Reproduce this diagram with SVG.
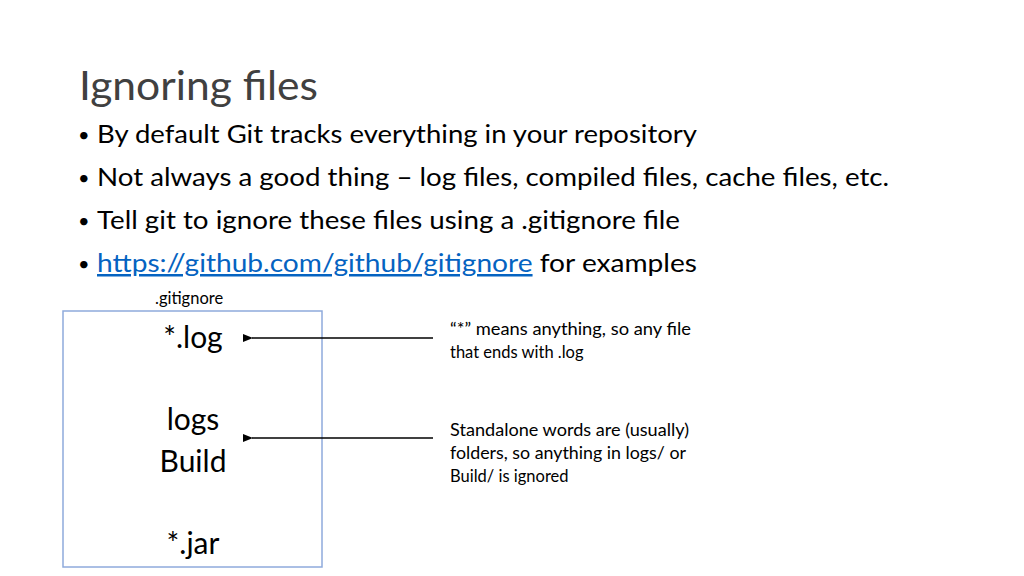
<svg xmlns="http://www.w3.org/2000/svg" width="1024" height="576" viewBox="0 0 1024 576">
<style>
text{font-family:"Lato","Liberation Sans",sans-serif;fill:#000}
.b{font-size:25px}
.d{font-size:20px}
.s{font-size:16.5px}
.c{font-size:30px;text-anchor:middle}
</style>
<defs><marker id="ah" markerWidth="10" markerHeight="8" refX="1" refY="4" orient="auto" markerUnits="userSpaceOnUse"><path d="M10,0 L0,4 L10,8 Z" fill="#000"/></marker></defs>
<rect width="1024" height="576" fill="#fff"/>
<g id="title"><text x="79" y="100" font-size="41" style="fill:#404040" textLength="239" lengthAdjust="spacingAndGlyphs">Ignoring files</text></g>
<g id="bullets">
<text class="d" x="78" y="142">•</text><text class="b" x="97" y="143" textLength="600" lengthAdjust="spacingAndGlyphs">By default Git tracks everything in your repository</text>
<text class="d" x="78" y="185">•</text><text class="b" x="97" y="186" textLength="792" lengthAdjust="spacingAndGlyphs">Not always a good thing – log files, compiled files, cache files, etc.</text>
<text class="d" x="78" y="228">•</text><text class="b" x="97" y="229" textLength="583" lengthAdjust="spacingAndGlyphs">Tell git to ignore these files using a .gitignore file</text>
<text class="d" x="78" y="271">•</text><text class="b" x="97" y="272" textLength="600" lengthAdjust="spacingAndGlyphs"><tspan style="fill:#0563C1" text-decoration="underline">https://github.com/github/gitignore</tspan> for examples</text>
</g>
<g id="file">
<text class="s" x="155" y="304">.gitignore</text>
<rect x="63" y="311" width="259" height="256" fill="none" stroke="#8faadc" stroke-width="1.5"/>
<text class="c" x="193" y="348">*.log</text>
<text class="c" x="193" y="430">logs</text>
<text class="c" x="193" y="472">Build</text>
<text class="c" x="193" y="554">*.jar</text>
</g>
<g id="connectors" stroke="#000" stroke-width="1.5">
<line x1="433" y1="338" x2="252" y2="338" marker-end="url(#ah)"/>
<line x1="433" y1="438" x2="252" y2="438" marker-end="url(#ah)"/>
</g>
<g id="notes">
<text class="s" x="450" y="335" textLength="241" lengthAdjust="spacingAndGlyphs">“*” means anything, so any file</text>
<text class="s" x="450" y="358">that ends with .log</text>
<text class="s" x="450" y="436" textLength="239" lengthAdjust="spacingAndGlyphs">Standalone words are (usually)</text>
<text class="s" x="450" y="459" textLength="236" lengthAdjust="spacingAndGlyphs">folders, so anything in logs/ or</text>
<text class="s" x="450" y="482">Build/ is ignored</text>
</g>
</svg>
